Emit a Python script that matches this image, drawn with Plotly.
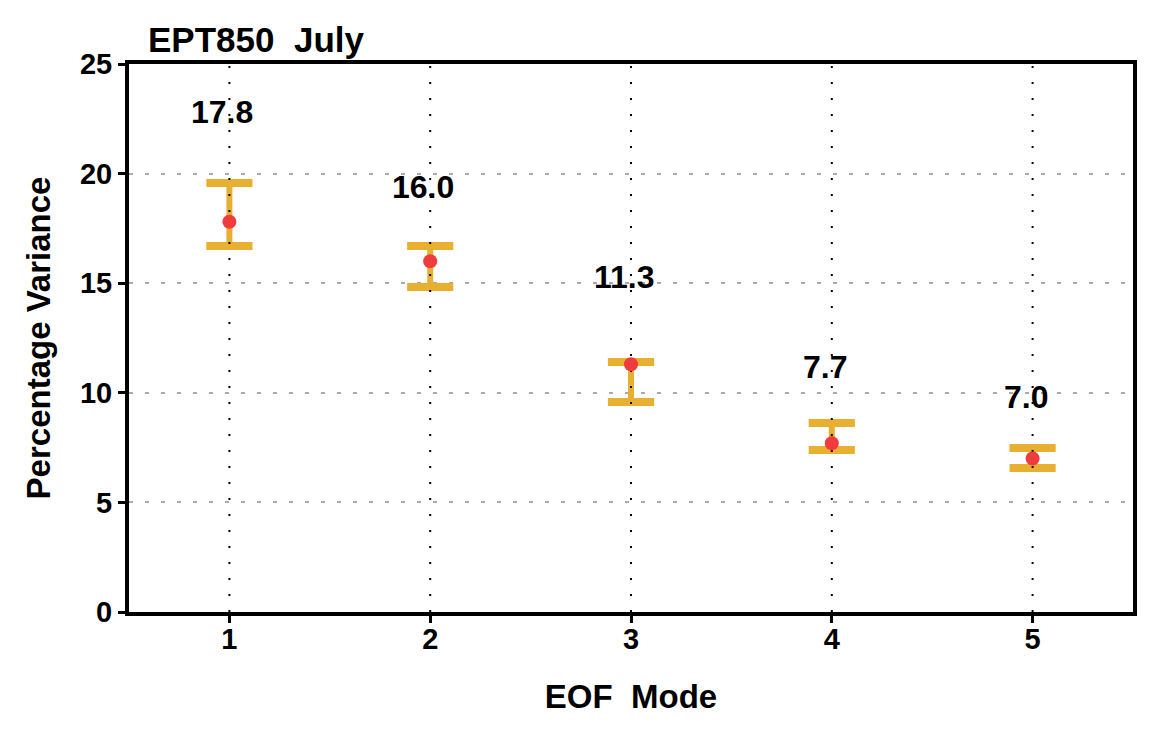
import plotly.graph_objects as go

modes = [1, 2, 3, 4, 5]
variance = [17.8, 16.0, 11.3, 7.7, 7.0]
upper = [19.57, 16.70, 11.41, 8.62, 7.48]
lower = [16.70, 14.83, 9.58, 7.39, 6.57]
label_y = [22.8, 19.4, 15.3, 11.2, 9.8]
y_ticks = [0, 5, 10, 15, 20, 25]

GOLD = "#E8B030"
RED = "#F03C3C"
FONT = "Liberation Sans"
cap_half = 0.115

fig = go.Figure()

# vertical bars
vx, vy = [], []
for m, lo, up in zip(modes, lower, upper):
    vx += [m, m, None]
    vy += [lo, up, None]
fig.add_trace(go.Scatter(x=vx, y=vy, mode="lines",
                         line=dict(color=GOLD, width=6), hoverinfo="skip", showlegend=False))
# caps
cx, cy = [], []
for m, lo, up in zip(modes, lower, upper):
    cx += [m - cap_half, m + cap_half, None, m - cap_half, m + cap_half, None]
    cy += [up, up, None, lo, lo, None]
fig.add_trace(go.Scatter(x=cx, y=cy, mode="lines",
                         line=dict(color=GOLD, width=8), hoverinfo="skip", showlegend=False))

# vertical dotted grid lines above the bars
gx, gy = [], []
for m in modes:
    gx += [m, m, None]
    gy += [y_ticks[0], y_ticks[-1], None]
fig.add_trace(go.Scatter(x=gx, y=gy, mode="lines",
                         line=dict(color="black", width=2, dash="2px,14px"),
                         hoverinfo="skip", showlegend=False))

# red dots
fig.add_trace(go.Scatter(x=modes, y=variance, mode="markers",
                         marker=dict(color=RED, size=14), showlegend=False))

for m, v, ly in zip(modes, variance, label_y):
    fig.add_annotation(x=m, y=ly, text=f"<b>{v:.1f}</b>", showarrow=False, xshift=-7,
                       font=dict(family=FONT, size=32, color="black"))

fig.add_annotation(xref="paper", yref="paper", x=0.017, y=1.0, yshift=25,
                   xanchor="left", yanchor="middle", text="<b>EPT850  July</b>",
                   showarrow=False, font=dict(family=FONT, size=35, color="black"))

fig.update_layout(
    width=1162, height=737,
    margin=dict(l=129, r=29, t=64, b=125),
    plot_bgcolor="white", paper_bgcolor="white",
    font=dict(family=FONT, size=29, color="black", weight="bold"),
    xaxis=dict(range=[0.5, 5.5], tickvals=modes, ticktext=[str(m) for m in modes],
               showgrid=False, zeroline=False,
               showline=True, linewidth=4, linecolor="black", mirror=True,
               ticks="outside", ticklen=7, tickwidth=3, tickcolor="black",
               ticklabelstandoff=-9,
               tickfont=dict(family=FONT, size=29, weight="bold"),
               title=dict(text="<b>EOF  Mode</b>", font=dict(family=FONT, size=33), standoff=32)),
    yaxis=dict(range=[0, 25], tickvals=y_ticks,
               showgrid=True, gridcolor="#AAAAAA", gridwidth=2, griddash="4px,12px",
               zeroline=False,
               showline=True, linewidth=4, linecolor="black", mirror=True,
               ticks="outside", ticklen=7, tickwidth=3, tickcolor="black",
               tickfont=dict(family=FONT, size=29, weight="bold"),
               title=dict(text="<b>Percentage Variance</b>", font=dict(family=FONT, size=33), standoff=20)),
)

fig.write_html("out.html")
